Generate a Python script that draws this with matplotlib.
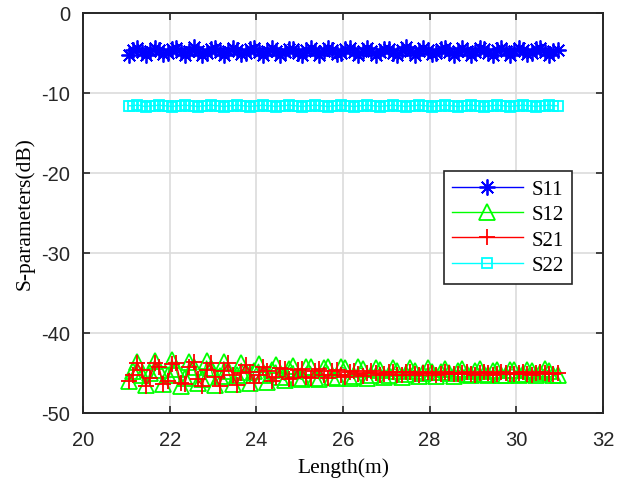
import matplotlib
matplotlib.use('Agg')
import matplotlib.pyplot as plt
import numpy as np

# 长度 (m)
length = np.arange(21.05, 31.0, 0.1)

s11 = [-5.2,-4.6,-4.4,-4.9,-5.3,-4.8,-4.4,-4.6,-5.1,-5.0,
       -4.5,-4.4,-4.9,-5.2,-4.7,-4.3,-4.7,-5.2,-5.0,-4.5,
       -4.4,-4.9,-5.3,-4.8,-4.4,-4.6,-5.1,-5.0,-4.5,-4.4,
       -4.9,-5.2,-4.7,-4.4,-4.7,-5.2,-4.9,-4.5,-4.5,-5.0,
       -5.2,-4.6,-4.4,-4.8,-5.2,-4.8,-4.4,-4.6,-5.1,-5.0,
       -4.5,-4.4,-4.9,-5.3,-4.7,-4.4,-4.7,-5.2,-4.9,-4.5,
       -4.5,-5.0,-5.2,-4.6,-4.3,-4.8,-5.3,-4.8,-4.4,-4.6,
       -5.1,-5.0,-4.5,-4.4,-4.9,-5.2,-4.7,-4.4,-4.7,-5.2,
       -4.9,-4.4,-4.5,-5.0,-5.2,-4.6,-4.4,-4.8,-5.3,-4.8,
       -4.4,-4.6,-5.1,-5.0,-4.5,-4.4,-4.9,-5.2,-4.7,-4.6]

s12 = [-46.0,-44.8,-43.6,-45.2,-46.5,-45.0,-43.5,-44.6,-46.4,-45.3,
       -43.4,-44.5,-46.6,-45.6,-43.6,-44.2,-46.3,-45.8,-43.5,-44.4,
       -46.5,-45.4,-43.6,-44.7,-46.4,-45.2,-43.8,-44.9,-46.2,-44.8,
       -43.9,-45.2,-46.1,-44.6,-44.0,-45.5,-45.9,-44.5,-44.1,-45.6,
       -45.8,-44.3,-44.2,-45.6,-45.7,-44.4,-44.2,-45.5,-45.6,-44.3,
       -44.4,-45.6,-45.4,-44.3,-44.5,-45.6,-45.3,-44.4,-44.6,-45.5,
       -45.2,-44.4,-44.7,-45.5,-45.1,-44.4,-44.8,-45.4,-45.0,-44.4,
       -44.9,-45.4,-44.9,-44.5,-45.0,-45.4,-44.8,-44.5,-45.1,-45.3,
       -44.7,-44.5,-45.1,-45.3,-44.7,-44.6,-45.2,-45.2,-44.6,-44.6,
       -45.2,-45.1,-44.6,-44.7,-45.3,-45.0,-44.5,-44.8,-45.3,-45.2]

s21 = [-46.0,-45.2,-43.8,-44.6,-46.6,-45.6,-43.7,-44.2,-46.4,-46.0,
       -43.9,-43.8,-46.2,-46.4,-44.2,-43.6,-45.8,-46.6,-44.6,-43.7,
       -45.5,-46.6,-44.8,-43.8,-45.2,-46.5,-45.0,-44.0,-44.9,-46.2,
       -45.3,-44.2,-44.7,-46.0,-45.5,-44.4,-44.5,-45.7,-45.6,-44.6,
       -44.5,-45.5,-45.6,-44.7,-44.5,-45.3,-45.6,-44.8,-44.6,-45.2,
       -45.5,-44.9,-44.7,-45.1,-45.4,-45.0,-44.8,-45.0,-45.3,-45.1,
       -44.9,-44.9,-45.2,-45.2,-44.9,-44.9,-45.1,-45.2,-45.0,-44.9,
       -45.0,-45.2,-45.1,-44.9,-45.0,-45.1,-45.1,-45.0,-44.9,-45.1,
       -45.2,-45.0,-44.9,-45.0,-45.2,-45.1,-44.9,-45.0,-45.1,-45.1,
       -45.0,-44.9,-45.1,-45.2,-45.0,-44.9,-45.0,-45.1,-45.1,-45.0]

s22 = [-11.6,-11.6,-11.5,-11.6,-11.7,-11.6,-11.6,-11.5,-11.6,-11.6,
       -11.7,-11.6,-11.6,-11.5,-11.6,-11.6,-11.7,-11.6,-11.6,-11.5,
       -11.6,-11.6,-11.7,-11.6,-11.6,-11.5,-11.6,-11.6,-11.7,-11.6,
       -11.6,-11.5,-11.6,-11.6,-11.7,-11.6,-11.6,-11.5,-11.6,-11.6,
       -11.7,-11.6,-11.6,-11.5,-11.6,-11.6,-11.7,-11.6,-11.6,-11.5,
       -11.6,-11.6,-11.7,-11.6,-11.6,-11.5,-11.6,-11.6,-11.7,-11.6,
       -11.6,-11.5,-11.6,-11.6,-11.7,-11.6,-11.6,-11.5,-11.6,-11.6,
       -11.7,-11.6,-11.6,-11.5,-11.6,-11.6,-11.7,-11.6,-11.6,-11.5,
       -11.6,-11.6,-11.7,-11.6,-11.6,-11.5,-11.6,-11.6,-11.7,-11.6,
       -11.6,-11.5,-11.6,-11.6,-11.7,-11.6,-11.6,-11.5,-11.6,-11.6]

xticks = [20, 22, 24, 26, 28, 30, 32]
yticks = [-50, -40, -30, -20, -10, 0]

fig = plt.figure(figsize=(6.23, 4.81), dpi=100)
ax = fig.add_axes([83/623, 1-414/481, 520/623, 400/481])

ax.plot(length, s11, color=(0, 0, 1), marker=(8, 2, 0), markersize=11.5, lw=1, mew=1.3, label='S11')
ax.plot(length, s12, color=(0, 1, 0), marker='^', markersize=11, mfc='none', lw=1, mew=1.3, label='S12')
ax.plot(length, s21, color=(1, 0, 0), marker='+', markersize=11, lw=1, mew=1.3, label='S21')
ax.plot(length, s22, color=(0, 1, 1), marker='s', markersize=7.5, mfc='none', lw=1, mew=1.3, label='S22')

ax.set_xlim(20, 32)
ax.set_ylim(-50, 0)
ax.set_xticks(xticks)
ax.set_yticks(yticks)
ax.set_xticklabels([str(t) for t in xticks], family='Liberation Sans', fontsize=14.5)
ax.set_yticklabels([str(t) for t in yticks], family='Liberation Sans', fontsize=14.5)
ax.tick_params(direction='in', length=5, width=1.2, top=True, right=True, colors='#262626')
ax.tick_params(axis='x', pad=12)
ax.tick_params(axis='y', pad=9)
ax.grid(True, color='#dcdcdc', lw=1.2)
ax.set_axisbelow(True)
for sp in ax.spines.values():
    sp.set_linewidth(1.4)
    sp.set_color('#262626')

ax.set_xlabel('Length(m)', family='Liberation Serif', fontsize=15.5, labelpad=6)
ax.set_ylabel('S-parameters(dB)', family='Liberation Serif', fontsize=15.5, labelpad=5)

leg = ax.legend(loc='upper right', bbox_to_anchor=(0.940, 0.605), fancybox=False,
                edgecolor='#262626', framealpha=1, handlelength=3.4, handletextpad=0.4,
                labelspacing=0.28, borderpad=0.4, borderaxespad=0,
                prop={'family': 'Liberation Serif', 'size': 15})
leg.get_frame().set_linewidth(1.2)

plt.savefig('out.png', dpi=100)
